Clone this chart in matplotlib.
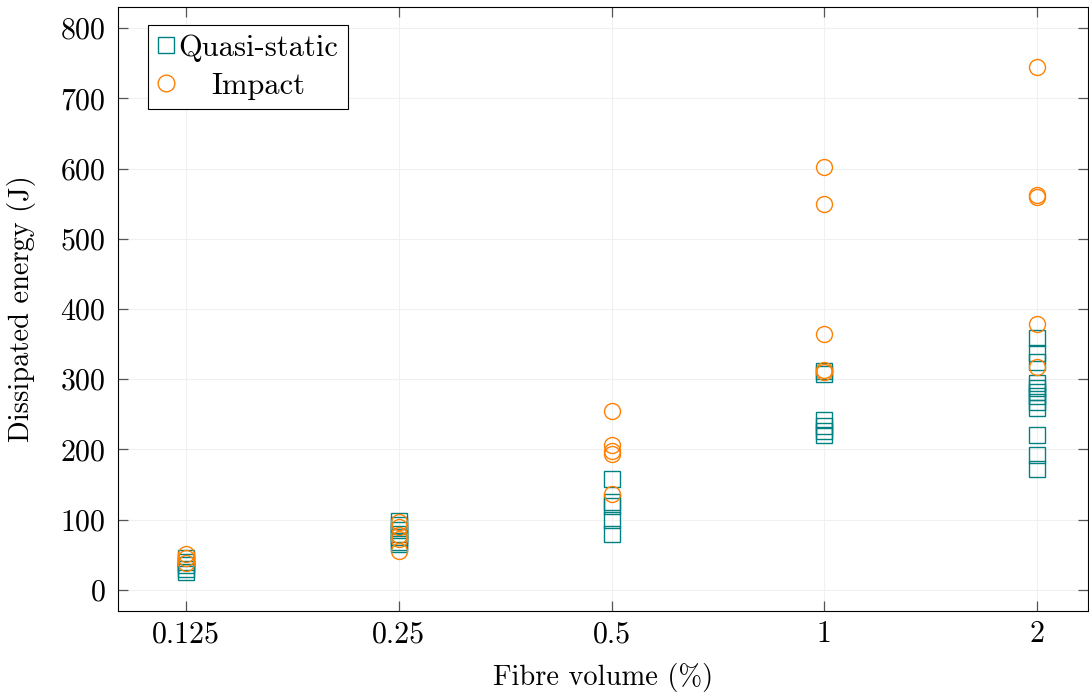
import matplotlib
matplotlib.use('Agg')
import matplotlib.pyplot as plt
import numpy as np

plt.rcParams['font.family'] = 'serif'
plt.rcParams['font.serif'] = ['cmr10', 'DejaVu Serif']
plt.rcParams['mathtext.fontset'] = 'cm'
plt.rcParams['axes.formatter.use_mathtext'] = True

# 纤维体积分数 (%)
fibre_levels = [0.125, 0.25, 0.5, 1, 2]
tick_labels = ['0.125', '0.25', '0.5', '1', '2']

# 准静态试验耗散能量 (J)
qs_x = [0.125] * 5 + [0.25] * 7 + [0.5] * 5 + [1] * 6 + [2] * 12
qs_y = [45, 40, 35, 30, 25,
        98, 92, 85, 80, 75, 68, 65,
        158, 125, 120, 100, 80,
        312, 308, 242, 233, 227, 220,
        358, 337, 325, 295, 288, 282, 276, 268, 259, 220, 192, 172]

# 冲击试验耗散能量 (J)
imp_x = [0.125] * 3 + [0.25] * 5 + [0.5] * 5 + [1] * 5 + [2] * 5
imp_y = [51, 45, 38,
         97, 90, 78, 72, 55,
         255, 207, 198, 193, 137,
         602, 550, 364, 313, 311,
         745, 562, 560, 379, 318]

fig = plt.figure(figsize=(10.89, 6.97), dpi=100)
ax = fig.add_axes([118 / 1089, 1 - 611 / 697, 970 / 1089, 604 / 697])

ax.plot(qs_x, qs_y, linestyle='none', marker='s', markersize=11,
        markerfacecolor='none', markeredgecolor='#008080', markeredgewidth=1.0,
        label='Quasi-static')
ax.plot(imp_x, imp_y, linestyle='none', marker='o', markersize=11.5,
        markerfacecolor='none', markeredgecolor='#ff8000', markeredgewidth=1.0,
        label='Impact')

ax.set_xscale('log', base=2)
ax.set_xlim(2 ** -3.32, 2 ** 1.24)
ax.set_ylim(-30, 830)
ax.set_xticks(fibre_levels)
ax.set_xticklabels(tick_labels)
ax.minorticks_off()
ax.set_yticks(np.arange(0, 801, 100))

ax.grid(True, color='#f0f0f0', linewidth=0.8)
ax.set_axisbelow(True)
ax.tick_params(direction='in', length=7, width=0.9, color='#555555',
               top=True, right=True, labelsize=21.5)
ax.tick_params(axis='y', pad=9)
ax.tick_params(axis='x', pad=7)
for sp in ax.spines.values():
    sp.set_linewidth(0.8)

ax.set_xlabel('Fibre volume (%)', fontsize=20.5, labelpad=11)
ax.set_ylabel('Dissipated energy (J)', fontsize=20.5, labelpad=17)

leg = ax.legend(loc='upper left', bbox_to_anchor=(30 / 970, 1 - 18 / 604),
                fontsize=22, fancybox=False, edgecolor='black', framealpha=1,
                handlelength=0.55, handletextpad=0.15, borderpad=0.3,
                labelspacing=0.35, borderaxespad=0)
leg.get_frame().set_linewidth(0.8)
for h in leg.legend_handles:
    h.set_markersize(12)

# 图例文字居中对齐（仿 pgfplots）
fig.canvas.draw()
r = fig.canvas.get_renderer()
texts = leg.get_texts()
widths = [t.get_window_extent(r).width for t in texts]
wmax = max(widths)
for t, w in zip(texts, widths):
    t.set_x((wmax - w) / 2)

plt.savefig('out.png', dpi=100, facecolor='white')
